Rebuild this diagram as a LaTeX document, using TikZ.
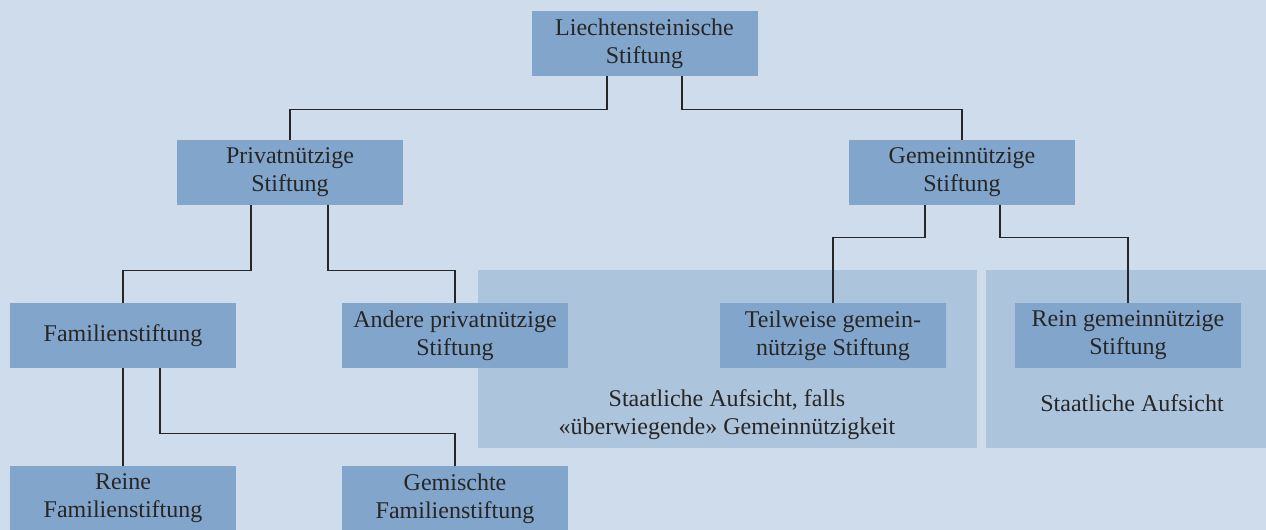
\documentclass[tikz,border=0pt]{standalone}
\usepackage{fontspec}
\setmainfont{Liberation Serif}
\usetikzlibrary{calc}
\definecolor{bgblue}{HTML}{CFDCEC}
\definecolor{boxblue}{HTML}{82A6CB}
\definecolor{regblue}{HTML}{ADC4DD}
\definecolor{inkgray}{HTML}{262626}
\tikzset{
	stbox/.style={fill=boxblue, text=inkgray, align=center, inner sep=0pt,
		minimum width=113pt, minimum height=32.5pt, font=\fontsize{12}{14}\selectfont},
	region/.style={fill=regblue, inner sep=0pt},
	regtext/.style={text=inkgray, align=center, font=\fontsize{12}{14}\selectfont},
	conn/.style={draw=inkgray, line width=0.6pt}
}

\begin{document}
\begin{tikzpicture}[x=0.5pt,y=-0.5pt]
			\fill[bgblue] (0,0) rectangle (1266,530);
			\useasboundingbox (0,0) rectangle (1266,530);
			\clip (0,0) rectangle (1266,530);
			\node[region, minimum width=249.5pt, minimum height=89pt] (aufs1) at (727.5,359) {};
			\node[region, minimum width=140pt, minimum height=89pt] (aufs2) at (1126,359) {};
			\node[regtext] (aufs1t) at (727,415) {Staatliche Aufsicht, falls\\«überwiegende» Gemeinnützigkeit};
			\node[regtext] (aufs2t) at (1132,403) {Staatliche Aufsicht};
			\node[stbox] (lst) at (644.5,43.5) {Liechtensteinische\\Stiftung};
			\node[stbox] (priv) at (290,172.5) {Privatnützige\\Stiftung};
			\node[stbox] (gem) at (962,172.5) {Gemeinnützige\\Stiftung};
			\node[stbox] (fam) at (123,335.5) {Familienstiftung};
			\node[stbox] (andere) at (455,335.5) {Andere privatnützige\\Stiftung};
			\node[stbox] (teilw) at (833,335.5) {Teilweise gemein-\\nützige Stiftung};
			\node[stbox] (rein) at (1128,335.5) {Rein gemeinnützige\\Stiftung};
			\node[stbox] (reinfam) at (123,498.5) {Reine\\Familienstiftung};
			\node[stbox] (gemfam) at (455,498.5) {Gemischte\\Familienstiftung};
			\draw[conn] ($(lst.south)+(-37.5,0)$) -- ++(0,33) -| (priv.north);
			\draw[conn] ($(lst.south)+(37.5,0)$) -- ++(0,33) -| (gem.north);
			\draw[conn] ($(priv.south)+(-39,0)$) -- ++(0,65) -| (fam.north);
			\draw[conn] ($(priv.south)+(38,0)$) -- ++(0,65) -| (andere.north);
			\draw[conn] ($(gem.south)+(-37,0)$) -- ++(0,32) -| (teilw.north);
			\draw[conn] ($(gem.south)+(38,0)$) -- ++(0,32) -| (rein.north);
			\draw[conn] (fam.south) -- (reinfam.north);
			\draw[conn] ($(fam.south)+(37,0)$) -- ++(0,65) -| (gemfam.north);
		\end{tikzpicture}
\end{document}
